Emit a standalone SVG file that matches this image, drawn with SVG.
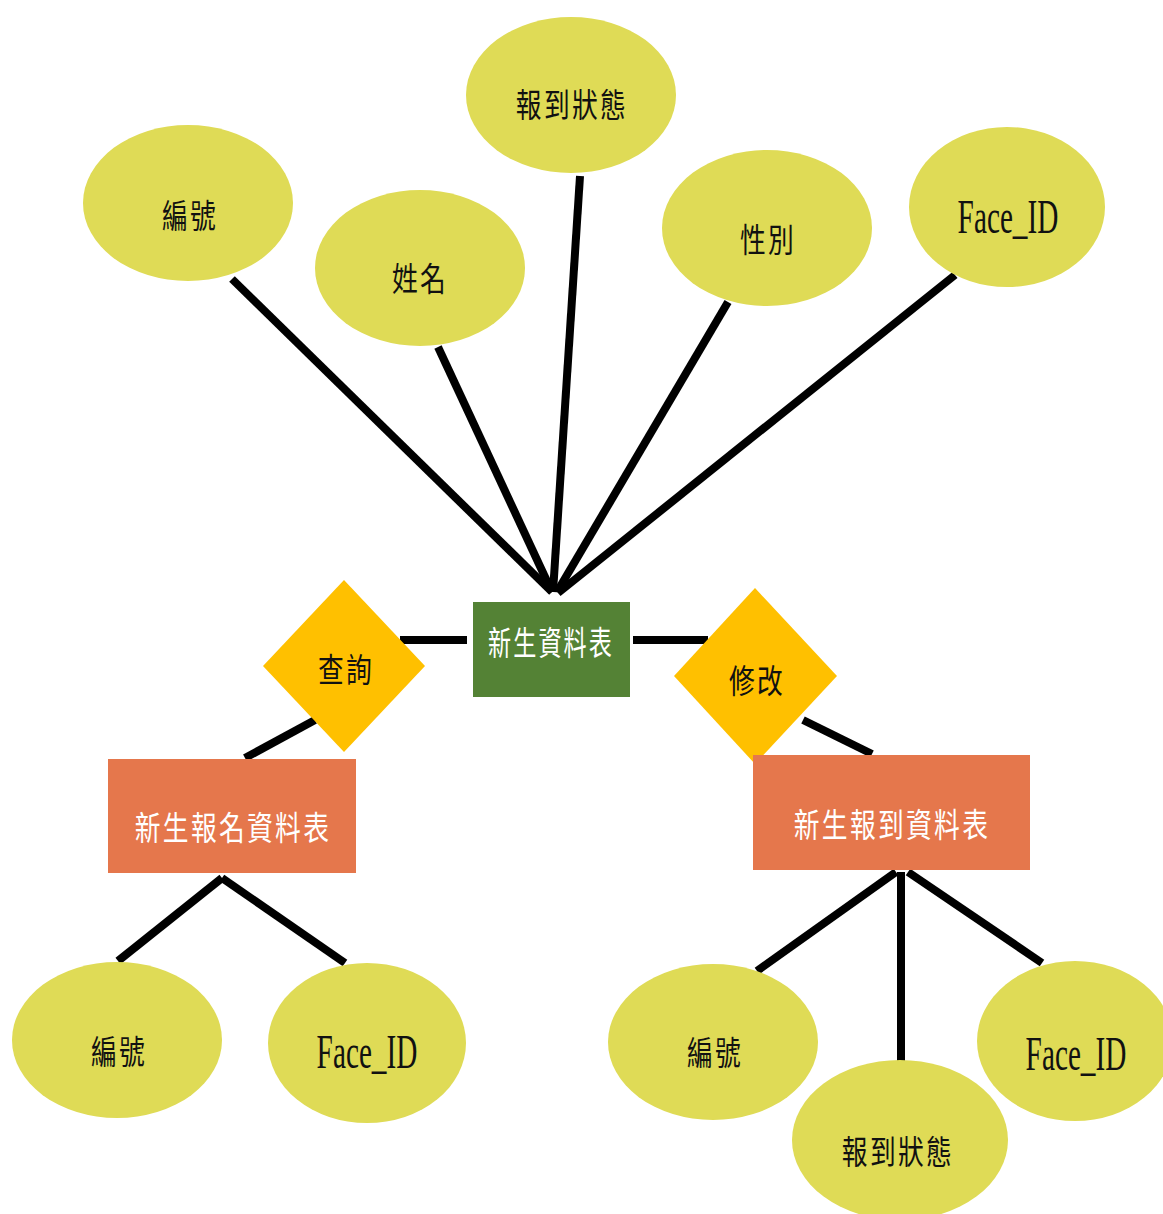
<svg xmlns="http://www.w3.org/2000/svg" width="1163" height="1214" viewBox="0 0 1163 1214">
  <style>
    .attr { fill: #DFDB56; }
    .rel { fill: #FFC000; }
    .main { fill: #548235; }
    .ent { fill: #E5774C; }
    .link { stroke: #000; stroke-width: 8; fill: none; }
    .cjk { font-family: "Noto Sans CJK TC", "Noto Sans CJK SC", sans-serif; font-size: 33px; text-anchor: middle; letter-spacing: 3px; }
    .lat { font-family: "Liberation Serif", serif; font-size: 48px; text-anchor: middle; }
    .dark { fill: #111; }
    .light { fill: #fff; }
  </style>

  <!-- connectors -->
  <g id="connectors">
    <line class="link" x1="232" y1="279" x2="552" y2="592"/>
    <line class="link" x1="438" y1="347" x2="552" y2="592"/>
    <line class="link" x1="580" y1="176" x2="553" y2="592"/>
    <line class="link" x1="728" y1="302" x2="557" y2="592"/>
    <line class="link" x1="955" y1="275" x2="558" y2="593"/>
    <line class="link" x1="400" y1="640" x2="467" y2="640"/>
    <line class="link" x1="633" y1="640" x2="708" y2="640"/>
    <line class="link" x1="315" y1="720" x2="245" y2="758"/>
    <line class="link" x1="803" y1="720" x2="872" y2="754"/>
    <line class="link" x1="222" y1="878" x2="118" y2="961"/>
    <line class="link" x1="222" y1="878" x2="345" y2="963"/>
    <line class="link" x1="896" y1="872" x2="757" y2="971"/>
    <line class="link" x1="901" y1="872" x2="901" y2="1061"/>
    <line class="link" x1="908" y1="872" x2="1042" y2="963"/>
  </g>

  <!-- student master table and its attributes -->
  <g id="attr-id-top">
    <ellipse class="attr" cx="188" cy="203" rx="105" ry="78"/>
    <text class="cjk dark" transform="translate(190,228) scale(0.78,1)">編號</text>
  </g>
  <g id="attr-name">
    <ellipse class="attr" cx="420" cy="268" rx="105" ry="78"/>
    <text class="cjk dark" transform="translate(420,291) scale(0.78,1)">姓名</text>
  </g>
  <g id="attr-status-top">
    <ellipse class="attr" cx="571" cy="95" rx="105" ry="78"/>
    <text class="cjk dark" transform="translate(572,117) scale(0.78,1)">報到狀態</text>
  </g>
  <g id="attr-gender">
    <ellipse class="attr" cx="767" cy="228" rx="105" ry="78"/>
    <text class="cjk dark" transform="translate(768,252) scale(0.78,1)">性別</text>
  </g>
  <g id="attr-face-top">
    <ellipse class="attr" cx="1007" cy="207" rx="98" ry="80"/>
    <text class="lat dark" transform="translate(1008,233) scale(0.61,1)">Face_ID</text>
  </g>

  <g id="table-student">
    <rect class="main" x="473" y="602" width="157" height="95"/>
    <text class="cjk light" letter-spacing="2" transform="translate(551,655) scale(0.7,1)">新生資料表</text>
  </g>

  <!-- relationships -->
  <g id="rel-query">
    <polygon class="rel" points="344,580 425,666 344,752 263,666"/>
    <text class="cjk dark" font-size="31" transform="translate(346,682) scale(0.78,1)">查詢</text>
  </g>
  <g id="rel-modify">
    <polygon class="rel" points="755,588 837,676 755,764 674,676"/>
    <text class="cjk dark" font-size="31" transform="translate(757,693) scale(0.78,1)">修改</text>
  </g>

  <!-- registration table -->
  <g id="table-enroll">
    <rect class="ent" x="108" y="759" width="248" height="114"/>
    <text class="cjk light" transform="translate(233,840) scale(0.78,1)">新生報名資料表</text>
  </g>
  <g id="attr-id-enroll">
    <ellipse class="attr" cx="117" cy="1040" rx="105" ry="78"/>
    <text class="cjk dark" transform="translate(119,1064) scale(0.78,1)">編號</text>
  </g>
  <g id="attr-face-enroll">
    <ellipse class="attr" cx="367" cy="1043" rx="99" ry="80"/>
    <text class="lat dark" transform="translate(367,1068) scale(0.61,1)">Face_ID</text>
  </g>

  <!-- check-in table -->
  <g id="table-checkin">
    <rect class="ent" x="753" y="755" width="277" height="115"/>
    <text class="cjk light" transform="translate(892,837) scale(0.78,1)">新生報到資料表</text>
  </g>
  <g id="attr-id-checkin">
    <ellipse class="attr" cx="713" cy="1042" rx="105" ry="78"/>
    <text class="cjk dark" transform="translate(715,1065) scale(0.78,1)">編號</text>
  </g>
  <g id="attr-status-checkin">
    <ellipse class="attr" cx="900" cy="1140" rx="108" ry="80"/>
    <text class="cjk dark" transform="translate(898,1164) scale(0.78,1)">報到狀態</text>
  </g>
  <g id="attr-face-checkin">
    <ellipse class="attr" cx="1075" cy="1041" rx="98" ry="80"/>
    <text class="lat dark" transform="translate(1076,1070) scale(0.61,1)">Face_ID</text>
  </g>
</svg>
